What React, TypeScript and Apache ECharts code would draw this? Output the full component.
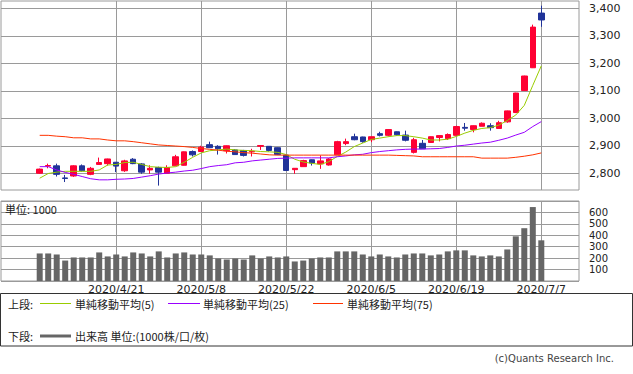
import React, { useEffect, useRef } from "react";
import * as echarts from "echarts";

const dates = [
  "2020/4/8", "2020/4/9", "2020/4/10", "2020/4/13", "2020/4/14", "2020/4/15", "2020/4/16", "2020/4/17", "2020/4/20", "2020/4/21",
  "2020/4/22", "2020/4/23", "2020/4/24", "2020/4/27", "2020/4/28", "2020/4/30", "2020/5/1", "2020/5/6", "2020/5/7", "2020/5/8",
  "2020/5/11", "2020/5/12", "2020/5/13", "2020/5/14", "2020/5/15", "2020/5/18", "2020/5/19", "2020/5/20", "2020/5/21", "2020/5/22",
  "2020/5/25", "2020/5/26", "2020/5/27", "2020/5/28", "2020/5/29", "2020/6/1", "2020/6/2", "2020/6/3", "2020/6/4", "2020/6/5",
  "2020/6/8", "2020/6/9", "2020/6/10", "2020/6/11", "2020/6/12", "2020/6/15", "2020/6/16", "2020/6/17", "2020/6/18", "2020/6/19",
  "2020/6/24", "2020/6/25", "2020/6/26", "2020/6/29", "2020/6/30", "2020/7/1", "2020/7/2", "2020/7/3", "2020/7/6", "2020/7/7",
];

const opens = [
  2800, 2826, 2827, 2783, 2790, 2827, 2796, 2832, 2835, 2840,
  2809, 2851, 2834, 2812, 2821, 2800, 2827, 2829, 2879, 2879,
  2904, 2898, 2882, 2885, 2883, 2878, 2898, 2898, 2893, 2866,
  2813, 2824, 2849, 2834, 2830, 2867, 2908, 2933, 2932, 2922,
  2944, 2938, 2951, 2939, 2876, 2909, 2912, 2930, 2926, 2938,
  2967, 2959, 2971, 2973, 2963, 2987, 3021, 3101, 3184, 3383,
];
const closes = [
  2815, 2828, 2796, 2781, 2827, 2809, 2818, 2839, 2852, 2826,
  2845, 2835, 2804, 2818, 2804, 2821, 2860, 2878, 2867, 2895,
  2893, 2889, 2900, 2868, 2865, 2880, 2901, 2883, 2868, 2810,
  2818, 2846, 2837, 2845, 2852, 2915, 2915, 2922, 2915, 2933,
  2938, 2959, 2940, 2920, 2922, 2889, 2933, 2937, 2941, 2970,
  2964, 2973, 2982, 2966, 2984, 3027, 3092, 3154, 3332, 3358,
];
const lows = [
  2798, 2818, 2788, 2768, 2787, 2806, 2793, 2832, 2828, 2804,
  2805, 2833, 2798, 2798, 2755, 2800, 2827, 2828, 2861, 2878,
  2892, 2868, 2872, 2868, 2861, 2861, 2885, 2879, 2866, 2808,
  2798, 2824, 2828, 2816, 2828, 2867, 2902, 2920, 2911, 2913,
  2934, 2934, 2937, 2916, 2872, 2889, 2910, 2916, 2921, 2938,
  2955, 2949, 2971, 2955, 2963, 2984, 3019, 3100, 3183, 3333,
];
const highs = [
  2817, 2835, 2835, 2794, 2829, 2832, 2823, 2857, 2853, 2841,
  2849, 2855, 2837, 2829, 2824, 2829, 2867, 2879, 2883, 2900,
  2915, 2902, 2901, 2888, 2885, 2889, 2902, 2899, 2894, 2868,
  2819, 2849, 2850, 2865, 2855, 2918, 2926, 2944, 2933, 2934,
  2951, 2960, 2952, 2955, 2929, 2921, 2934, 2938, 2945, 2973,
  2983, 2974, 2985, 2982, 2991, 3028, 3093, 3155, 3341, 3410,
];

const ma5 = [
  2782, 2799, 2804, 2807, 2807, 2807, 2807, 2812, 2830, 2832,
  2839, 2840, 2832, 2824, 2822, 2821, 2824, 2840, 2858, 2874,
  2882, 2885, 2888, 2885, 2883, 2882, 2879, 2878, 2876, 2868,
  2851, 2841, 2836, 2832, 2842, 2861, 2877, 2897, 2910, 2923,
  2928, 2933, 2937, 2937, 2933, 2928, 2921, 2921, 2924, 2934,
  2946, 2956, 2963, 2966, 2975, 2992, 3012, 3047, 3120, 3191,
];
const ma25 = [
  2824, 2824, 2812, 2803, 2796, 2788, 2780, 2776, 2776, 2778,
  2779, 2781, 2786, 2791, 2797, 2801, 2804, 2808, 2811, 2817,
  2824, 2828, 2831, 2838, 2840, 2845, 2848, 2851, 2854, 2855,
  2856, 2856, 2856, 2856, 2856, 2860, 2863, 2867, 2869, 2875,
  2879, 2882, 2885, 2887, 2888, 2888, 2889, 2890, 2894, 2899,
  2902, 2906, 2910, 2913, 2920, 2928, 2939, 2949, 2970, 2988,
];
const ma75 = [
  2938, 2938, 2935, 2933, 2929, 2929, 2925, 2925, 2921, 2918,
  2918, 2915, 2911, 2907, 2903, 2901, 2899, 2897, 2894, 2890,
  2887, 2884, 2880, 2878, 2875, 2873, 2870, 2867, 2866, 2866,
  2866, 2866, 2866, 2866, 2866, 2866, 2866, 2866, 2866, 2866,
  2866, 2866, 2865, 2864, 2863, 2860, 2860, 2860, 2860, 2860,
  2860, 2860, 2855, 2855, 2855, 2855, 2858, 2862, 2867, 2874,
];

const volumes = [
  241, 241, 232, 179, 206, 206, 206, 250, 215, 232,
  215, 250, 241, 215, 259, 206, 241, 250, 232, 232,
  224, 197, 188, 197, 188, 224, 197, 215, 206, 215,
  171, 179, 197, 206, 206, 259, 259, 259, 232, 215,
  232, 215, 206, 232, 241, 241, 224, 232, 259, 268,
  268, 224, 215, 224, 215, 276, 391, 462, 647, 356,
];

const priceTicks = [2800, 2900, 3000, 3100, 3200, 3300, 3400];

const GRID_COLOR = "#9a9a9a";
const UP = "#ff0033";
const DOWN = "#203399";
const JP = "'Noto Sans CJK JP', sans-serif";
const NUM = "'DejaVu Sans', sans-serif";

export default function App() {
  const ref = useRef<HTMLDivElement>(null);

  useEffect(() => {
    if (!ref.current) return;
    const chart = echarts.init(ref.current, undefined, { renderer: "svg" });
    const candleData = opens.map((o, i) => [o, closes[i], lows[i], highs[i]]);
    const labelInterval = (i: number) => i % 10 === 9;

    const txt = (x: number, y: number, text: string, extra: any = {}) => ({
      type: "text",
      x,
      y,
      z: 100,
      style: {
        text,
        fill: "#222",
        fontSize: 11,
        fontFamily: JP,
        verticalAlign: "middle",
        textVerticalAlign: "middle",
        ...extra,
      },
    });
    const seg = (x1: number, x2: number, y: number, color: string, w: number) => ({
      type: "line",
      z: 100,
      shape: { x1, y1: y, x2, y2: y },
      style: { stroke: color, lineWidth: w },
    });

    chart.setOption({
      animation: false,
      backgroundColor: "#fff",
      grid: [
        { left: 1, top: 1, width: 578, height: 189, show: true, borderColor: GRID_COLOR, borderWidth: 1, backgroundColor: "#fff" },
        { left: 39.7, top: 1, width: 501.6, height: 189 },
        { left: 1, top: 201, width: 578, height: 80, show: true, borderColor: GRID_COLOR, borderWidth: 1, backgroundColor: "#fff" },
        { left: 39.7, top: 201, width: 501.6, height: 80 },
      ],
      xAxis: [
        { gridIndex: 0, type: "value", min: 0, max: 1, show: false },
        {
          gridIndex: 1,
          type: "category",
          data: dates,
          boundaryGap: false,
          axisLine: { show: false },
          axisTick: { show: false },
          axisLabel: { show: false },
          splitLine: { show: true, interval: labelInterval, lineStyle: { color: GRID_COLOR, width: 1 } },
        },
        { gridIndex: 2, type: "value", min: 0, max: 1, show: false },
        {
          gridIndex: 3,
          type: "category",
          data: dates,
          boundaryGap: false,
          axisLine: { show: false },
          axisTick: { show: false },
          axisLabel: {
            show: true,
            interval: labelInterval,
            margin: 3,
            fontSize: 11,
            fontFamily: NUM,
            color: "#222",
          },
          splitLine: { show: true, interval: labelInterval, lineStyle: { color: GRID_COLOR, width: 1 } },
        },
      ],
      yAxis: [
        {
          gridIndex: 0,
          type: "value",
          min: 2739,
          max: 3427,
          position: "right",
          axisLine: { show: false },
          axisTick: { show: true, length: 5, lineStyle: { color: GRID_COLOR }, customValues: priceTicks },
          axisLabel: {
            customValues: priceTicks,
            margin: 10,
            fontSize: 11,
            fontFamily: NUM,
            color: "#222",
            formatter: (v: number) => v.toLocaleString("en-US"),
          },
          splitLine: { show: true, lineStyle: { color: GRID_COLOR, width: 1 } },
        },
        { gridIndex: 1, type: "value", min: 2739, max: 3427, show: false },
        {
          gridIndex: 2,
          type: "value",
          min: 0,
          max: 700,
          interval: 100,
          position: "right",
          axisLine: { show: false },
          axisTick: { show: true, length: 5, lineStyle: { color: GRID_COLOR } },
          axisLabel: {
            margin: 10,
            fontSize: 10,
            lineHeight: 10,
            fontFamily: NUM,
            color: "#222",
            formatter: (v: number) => (v === 0 || v === 700 ? "" : String(v)),
          },
          splitLine: { show: true, lineStyle: { color: GRID_COLOR, width: 1 } },
        },
        { gridIndex: 3, type: "value", min: 0, max: 700, show: false },
      ],
      series: [
        {
          name: "株価",
          type: "candlestick",
          xAxisIndex: 1,
          yAxisIndex: 1,
          data: candleData,
          barWidth: 6,
          clip: false,
          itemStyle: { color: UP, color0: DOWN, borderColor: UP, borderColor0: DOWN, borderWidth: 1 },
        },
        {
          name: "単純移動平均(5)",
          type: "line",
          xAxisIndex: 1,
          yAxisIndex: 1,
          data: ma5,
          symbol: "none",
          lineStyle: { color: "#99cc00", width: 1 },
        },
        {
          name: "単純移動平均(25)",
          type: "line",
          xAxisIndex: 1,
          yAxisIndex: 1,
          data: ma25,
          symbol: "none",
          lineStyle: { color: "#9900ff", width: 1 },
        },
        {
          name: "単純移動平均(75)",
          type: "line",
          xAxisIndex: 1,
          yAxisIndex: 1,
          data: ma75,
          symbol: "none",
          lineStyle: { color: "#ff3300", width: 1 },
        },
        {
          name: "出来高",
          type: "bar",
          xAxisIndex: 3,
          yAxisIndex: 3,
          data: volumes,
          barWidth: 6,
          clip: false,
          itemStyle: { color: "#666666" },
        },
      ],
      graphic: [
        txt(5, 209, "単位: 1000"),
        {
          type: "rect",
          z: 99,
          shape: { x: 0.5, y: 293.5, width: 632, height: 52.5 },
          style: { fill: "none", stroke: "#333", lineWidth: 1 },
        },
        txt(8, 304, "上段:"),
        seg(40, 71, 303.5, "#99cc00", 1),
        txt(75, 304, "単純移動平均(5)"),
        seg(168, 200, 303.5, "#9900ff", 1),
        txt(203, 304, "単純移動平均(25)"),
        seg(313, 343, 303.5, "#ff3300", 1),
        txt(347, 304, "単純移動平均(75)"),
        txt(8, 336, "下段:"),
        seg(40, 71, 336, "#666666", 3),
        txt(75, 336, "出来高 単位:(1000株/口/枚)"),
        txt(614, 358, "(c)Quants Research Inc.", { align: "right", textAlign: "right", fill: "#444", fontFamily: NUM, fontSize: 10 }),
      ],
    });

    return () => chart.dispose();
  }, []);

  return (
    <div
      ref={ref}
      style={{ position: "absolute", left: 0, top: 0, width: 633, height: 374, background: "#fff" }}
    />
  );
}
